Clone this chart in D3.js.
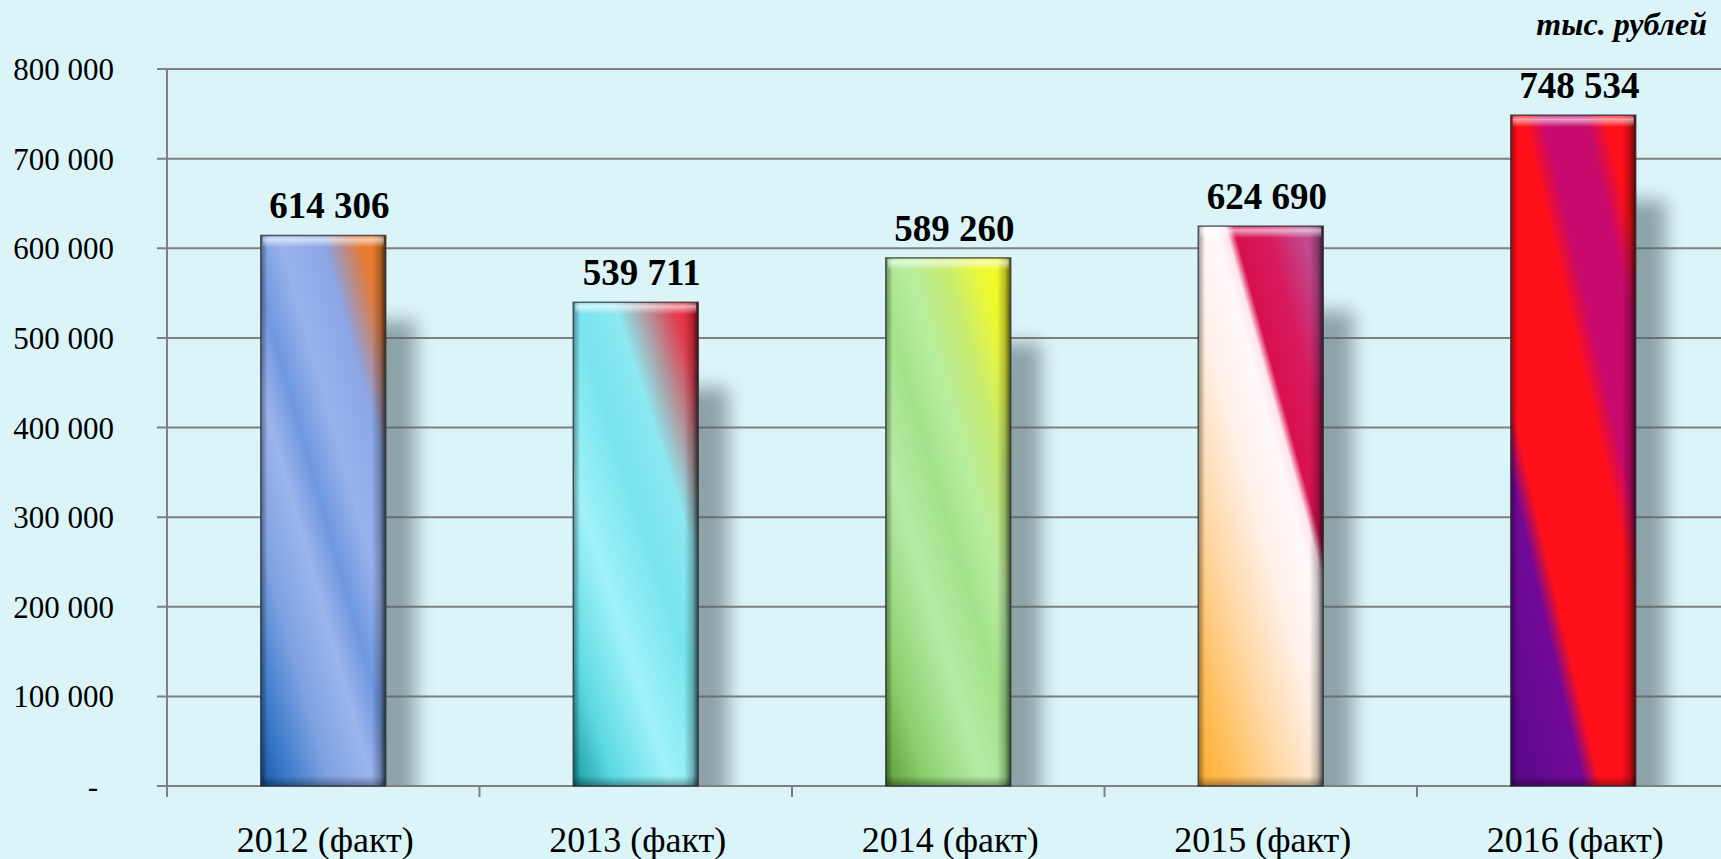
<!DOCTYPE html>
<meta charset="utf-8">
<style>
  body { margin: 0; background: #dbf4f8; }
  svg { display: block; }
  text { font-family: "Liberation Serif", "Times New Roman", serif; fill: #000; }
</style>
<script src="https://cdn.jsdelivr.net/npm/d3@7"></script>

<svg id="chart" width="1721" height="859"></svg>

<script>

// data
const years = ["2012 (факт)", "2013 (факт)", "2014 (факт)", "2015 (факт)", "2016 (факт)"];
const values = [614306, 539711, 589260, 624690, 748534];
const yTicks = [0, 100000, 200000, 300000, 400000, 500000, 600000, 700000, 800000];
const unitLabel = "тыс. рублей";

// gradient stops for each bar (diagonal, bottom-left to top-right)
const barStops = [
  [[0, "#1a58a8"], [0.1, "#3a7ac8"], [0.25, "#7ea2e2"], [0.4, "#9db4ec"], [0.5, "#6f98e0"],
   [0.62, "#98b2ec"], [0.77, "#8aa6e6"], [0.84, "#bc8a84"], [0.9, "#e67a34"], [1, "#f08020"]],
  [[0, "#17989f"], [0.15, "#5cd8e2"], [0.35, "#a0f2f8"], [0.55, "#78e4ee"], [0.7, "#8ce8f2"],
   [0.8, "#b0989e"], [0.9, "#e04050"], [1, "#f01830"]],
  [[0, "#5c9c38"], [0.15, "#8ccf6e"], [0.35, "#b5eca5"], [0.5, "#a3e28a"], [0.62, "#b8eda0"],
   [0.76, "#c8ec70"], [0.88, "#eef832"], [1, "#f2fc20"]],
  [[0, "#ffae30"], [0.12, "#ffbd55"], [0.3, "#ffd8a6"], [0.48, "#fff0e8"], [0.61, "#fff9fb"],
   [0.65, "#ffe6ee"], [0.68, "#d8104e"], [0.8, "#d81a60"], [0.92, "#c04a8e"], [1, "#b04890"]],
  [[0, "#560a86"], [0.26, "#720898"], [0.32, "#ff1018"], [0.6, "#ff1018"], [0.67, "#c8096e"],
   [0.82, "#c80a6c"], [0.89, "#ff1018"], [1, "#ff1018"]]
];

const svg = d3.select("#chart"),
  width = +svg.attr("width"),
  height = +svg.attr("height");

const x0 = 167, yBase = 786, yTop = 69;

const x = d3.scaleBand()
  .domain(years)
  .range([x0, x0 + 5 * 312.5])
  .paddingInner(0.6)
  .paddingOuter(0.3);

const y = d3.scaleLinear()
  .domain([0, 800000])
  .range([yBase, yTop]);

const fmt = d3.formatLocale({decimal: ",", thousands: " ", grouping: [3], currency: ["", ""]}).format(",d");

svg.append("rect")
  .attr("width", width).attr("height", height)
  .attr("fill", "#dbf4f8");

const defs = svg.append("defs");

defs.append("filter").attr("id", "blur")
  .attr("x", "-50%").attr("y", "-50%").attr("width", "200%").attr("height", "200%")
  .append("feGaussianBlur").attr("stdDeviation", 9);

defs.append("clipPath").attr("id", "plotClip")
  .append("rect").attr("x", x0).attr("y", 0).attr("width", width).attr("height", yBase - 1);

barStops.forEach(function(stops, i) {
  const g = defs.append("linearGradient")
    .attr("id", "bar" + i)
    .attr("x1", 0).attr("y1", 1).attr("x2", 0.878).attr("y2", -0.098);
  stops.forEach(function(s) {
    g.append("stop").attr("offset", s[0]).attr("stop-color", s[1]);
  });
});

function shade(id, x1, y1, x2, y2, stops) {
  const g = defs.append("linearGradient").attr("id", id)
    .attr("x1", x1).attr("y1", y1).attr("x2", x2).attr("y2", y2);
  stops.forEach(function(s) {
    g.append("stop").attr("offset", s[0]).attr("stop-color", s[1]).attr("stop-opacity", s[2]);
  });
}
shade("shRight", 0, 0, 1, 0, [[0, "#000", 0], [0.6, "#000", 0.25], [1, "#000", 0.7]]);
shade("shLeft", 0, 0, 1, 0, [[0, "#000", 0.4], [1, "#000", 0]]);
shade("shTop", 0, 0, 0, 1, [[0, "#fff", 0.15], [0.35, "#fff", 0.6], [1, "#fff", 0]]);
shade("shBottom", 0, 0, 0, 1, [[0, "#000", 0], [1, "#000", 0.35]]);

// gridlines
svg.append("g")
  .selectAll("line")
  .data(yTicks)
  .join("line")
  .attr("x1", x0 - 10).attr("x2", width)
  .attr("y1", d => y(d)).attr("y2", d => y(d))
  .attr("stroke", "#808080")
  .attr("stroke-width", 2);

// y axis line and x ticks
svg.append("line")
  .attr("x1", x0).attr("x2", x0)
  .attr("y1", yTop).attr("y2", yBase + 11)
  .attr("stroke", "#808080").attr("stroke-width", 2);

svg.append("g")
  .selectAll("line")
  .data(years.slice(1))
  .join("line")
  .attr("x1", d => x(d) - (x.step() - x.bandwidth()) / 2)
  .attr("x2", d => x(d) - (x.step() - x.bandwidth()) / 2)
  .attr("y1", yBase).attr("y2", yBase + 11)
  .attr("stroke", "#808080").attr("stroke-width", 2);

// y labels
svg.append("g")
  .selectAll("text")
  .data(yTicks)
  .join("text")
  .attr("x", d => d === 0 ? 98 : 114)
  .attr("y", d => y(d) + 11)
  .attr("text-anchor", "end")
  .style("font-size", "31px")
  .text(d => d === 0 ? "-" : fmt(d));

// bar shadows
svg.append("g")
  .attr("clip-path", "url(#plotClip)")
  .selectAll("rect")
  .data(values)
  .join("rect")
  .attr("x", (d, i) => x(years[i]) + 30)
  .attr("y", d => y(d) + 85)
  .attr("width", x.bandwidth())
  .attr("height", d => yBase - y(d))
  .attr("fill", "#4f6266")
  .attr("opacity", 0.55)
  .attr("filter", "url(#blur)");

// bars
const bars = svg.append("g")
  .selectAll("g")
  .data(values)
  .join("g")
  .attr("transform", (d, i) => `translate(${x(years[i])},${y(d)})`);

bars.append("rect")
  .attr("width", x.bandwidth())
  .attr("height", d => yBase - y(d))
  .attr("fill", (d, i) => `url(#bar${i})`);

bars.append("rect")
  .attr("x", x.bandwidth() - 14).attr("width", 14)
  .attr("height", d => yBase - y(d))
  .attr("fill", "url(#shRight)");

bars.append("rect")
  .attr("width", 7)
  .attr("height", d => yBase - y(d))
  .attr("fill", "url(#shLeft)");

bars.append("rect")
  .attr("y", d => yBase - y(d) - 10)
  .attr("width", x.bandwidth()).attr("height", 10)
  .attr("fill", "url(#shBottom)");

bars.append("rect")
  .attr("x", 2).attr("width", x.bandwidth() - 4).attr("height", 12)
  .attr("fill", "url(#shTop)");

bars.append("rect")
  .attr("width", x.bandwidth())
  .attr("height", d => yBase - y(d))
  .attr("fill", "none")
  .attr("stroke", "#2a3038")
  .attr("stroke-opacity", 0.75)
  .attr("stroke-width", 1.5);

// value labels
svg.append("g")
  .selectAll("text")
  .data(values)
  .join("text")
  .attr("x", (d, i) => x(years[i]) + x.bandwidth() / 2 + 6)
  .attr("y", d => y(d) - 17)
  .attr("text-anchor", "middle")
  .style("font-size", "37px")
  .style("font-weight", "bold")
  .text(d => fmt(d));

// x labels
svg.append("g")
  .selectAll("text")
  .data(years)
  .join("text")
  .attr("x", d => x(d) + x.bandwidth() / 2 + 2)
  .attr("y", 852)
  .attr("text-anchor", "middle")
  .style("font-size", "36px")
  .text(d => d);

// unit label
svg.append("text")
  .attr("x", 1707)
  .attr("y", 35)
  .attr("text-anchor", "end")
  .style("font-size", "32px")
  .style("font-weight", "bold")
  .style("font-style", "italic")
  .text(unitLabel);

</script>
